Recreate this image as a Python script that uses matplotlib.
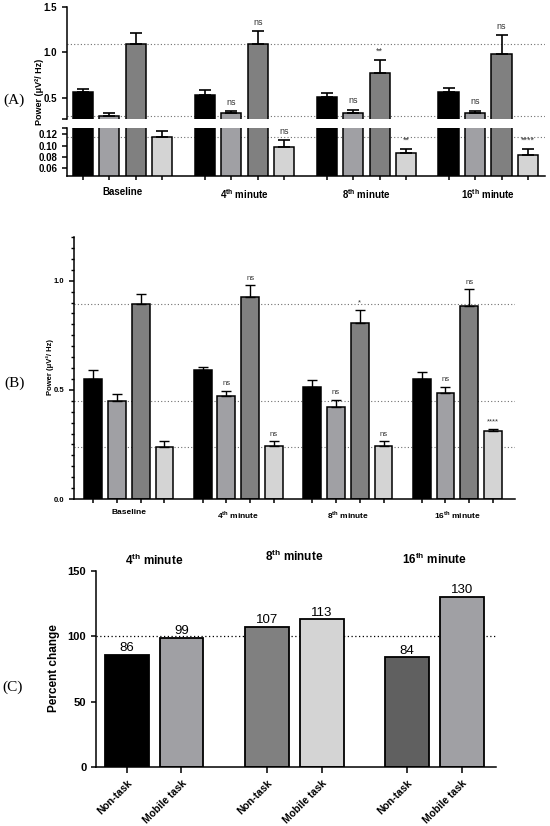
import numpy as np
import matplotlib
matplotlib.use("Agg")
import matplotlib.pyplot as plt

plt.rcParams['font.family'] = ['Liberation Sans', 'DejaVu Sans']
plt.rcParams['mathtext.fontset'] = 'custom'
plt.rcParams['mathtext.rm'] = 'Liberation Sans'
plt.rcParams['mathtext.bf'] = 'Liberation Sans:bold'
plt.rcParams['axes.linewidth'] = 1.1

# ---- data ----
groups = ["Baseline", r"4$^{\mathbf{th}}$ minute", r"8$^{\mathbf{th}}$ minute", r"16$^{\mathbf{th}}$ minute"]
series_colors = ["#000000", "#a0a0a4", "#808080", "#d4d4d4"]

# panel A (broken axis)
a_black = [0.56, 0.533, 0.51, 0.567]
a_black_sem = [0.04, 0.057, 0.045, 0.043]
a_grey = [0.30, 0.33, 0.33, 0.33]
a_grey_sem = [0.03, 0.025, 0.04, 0.03]
a_dark = [1.09, 1.09, 0.77, 0.98]
a_dark_sem = [0.12, 0.145, 0.145, 0.21]
a_light = [0.115, 0.098, 0.086, 0.084]
a_light_sem = [0.010, 0.012, 0.008, 0.010]
a_marks = [["", "", "", ""],
           ["", "ns", "ns", "ns"],
           ["", "ns", "**", "ns"],
           ["", "ns", "**", "****"]]

# panel B
b_black = [0.55, 0.59, 0.515, 0.55]
b_black_sem = [0.04, 0.015, 0.03, 0.03]
b_grey = [0.45, 0.47, 0.42, 0.485]
b_grey_sem = [0.03, 0.025, 0.035, 0.03]
b_dark = [0.895, 0.925, 0.805, 0.885]
b_dark_sem = [0.045, 0.055, 0.06, 0.075]
b_light = [0.24, 0.245, 0.245, 0.31]
b_light_sem = [0.025, 0.02, 0.02, 0.012]
b_marks = [["", "", "", ""],
           ["", "ns", "ns", "ns"],
           ["", "ns", "*", "ns"],
           ["", "ns", "ns", "****"]]

# panel C
c_titles = [r"4$^{\mathbf{th}}$ minute", r"8$^{\mathbf{th}}$ minute", r"16$^{\mathbf{th}}$ minute"]
c_labels = ["Non-task", "Mobile task"] * 3
c_values = [86, 99, 107, 113, 84, 130]
c_colors = ["#000000", "#a0a0a4", "#808080", "#d4d4d4", "#606060", "#a0a0a4"]

W, H = 550, 826
fig = plt.figure(figsize=(W / 100, H / 100), dpi=100)


def px_axes(x0, y0, x1, y1):
    # pixel box (left, top, right, bottom) -> figure axes
    return fig.add_axes([x0 / W, 1 - y1 / H, (x1 - x0) / W, (y1 - y0) / H])


def style(ax, bottom=True):
    for s in ["top", "right"]:
        ax.spines[s].set_visible(False)
    if not bottom:
        ax.spines["bottom"].set_visible(False)
    ax.tick_params(axis="y", width=1.1, length=3.5)
    ax.tick_params(axis="x", which="both", width=1.1)


def draw_bars(ax, means, sems, pos_all, width, capsize, elw):
    for i, (m, s) in enumerate(zip(means, sems)):
        pos = pos_all[i]
        ax.bar(pos, m, width=width, color=series_colors[i], edgecolor="black",
               linewidth=1.1, zorder=2)
        ax.errorbar(pos, m, yerr=[np.zeros(len(s)), s], fmt="none", ecolor="black",
                    elinewidth=elw, capsize=capsize, capthick=elw, zorder=3)


gap = 4.6
bar_pos = [np.arange(4) * gap + i for i in range(4)]
centers = np.arange(4) * gap + 1.5
all_pos = np.concatenate(bar_pos)

# ---------- panel A ----------
a_means = [a_black, a_grey, a_dark, a_light]
a_sems = [a_black_sem, a_grey_sem, a_dark_sem, a_light_sem]
axA = px_axes(67, 7, 545, 119)
axA2 = px_axes(67, 128, 545, 176)
for ax, lim in [(axA, (0.267, 1.5)), (axA2, (0.046, 0.131))]:
    draw_bars(ax, a_means, a_sems, bar_pos, 0.76, 4, 1.2)
    ax.set_xlim(-0.6, 3 * gap + 3.64)
    ax.set_ylim(*lim)
    ref = [a_dark[0], a_grey[0], a_light[0]]
    for r in ref:
        if lim[0] < r < lim[1]:
            ax.axhline(r, color="#707070", lw=0.8, ls=(0, (1, 2)), zorder=1)
style(axA, bottom=False)
style(axA2)
axA.set_xticks([])
axA.set_yticks([0.5, 1.0, 1.5])
axA.set_yticks([0.267], minor=True)
axA.tick_params(axis="y", which="minor", length=3.5, width=1.1)
axA.set_yticklabels(["0.5", "1.0", "1.5"], fontsize=7, fontweight="bold")
axA2.set_yticks([0.06, 0.08, 0.10, 0.12])
axA2.set_yticks([0.131], minor=True)
axA2.tick_params(axis="y", which="minor", length=3.5, width=1.1)
axA2.set_yticklabels(["0.06", "0.08", "0.10", "0.12"], fontsize=7, fontweight="bold")
axA2.set_xticks(centers)
axA2.set_xticklabels(groups, fontsize=7, fontweight="bold")
axA2.set_xticks(all_pos, minor=True)
axA2.tick_params(axis="x", which="major", length=0, pad=8)
axA2.tick_params(axis="x", which="minor", length=3)

for i in range(4):
    for g in range(4):
        mk = a_marks[i][g]
        if not mk:
            continue
        top = a_means[i][g] + a_sems[i][g]
        ax = axA if i < 3 else axA2
        ax.annotate(mk, (bar_pos[i][g], top), xytext=(0, 3), textcoords="offset points",
                    ha="center", va="bottom", fontsize=6.5, color="#333333")

fig.text(39 / W, 1 - 92 / H, "Power (μV²/ Hz)", rotation=90, ha="center", va="center",
         fontsize=6.5, fontweight="bold")
fig.text(14 / W, 1 - 100 / H, "(A)", ha="center", va="center", fontsize=11,
         family="Liberation Serif")

# ---------- panel B ----------
b_means = [b_black, b_grey, b_dark, b_light]
b_sems = [b_black_sem, b_grey_sem, b_dark_sem, b_light_sem]
axB = px_axes(74, 237, 515, 499)
draw_bars(axB, b_means, b_sems, bar_pos, 0.75, 3.5, 1.0)
axB.set_xlim(-0.8, 3 * gap + 3.92)
axB.set_ylim(0, 1.2)
for r in [b_dark[0], b_grey[0], b_light[0]]:
    axB.axhline(r, color="#707070", lw=0.8, ls=(0, (1, 2)), zorder=1)
style(axB)
axB.set_yticks([0.0, 0.5, 1.0])
axB.set_yticklabels(["0.0", "0.5", "1.0"], fontsize=5.5, fontweight="bold")
axB.set_yticks(np.arange(0, 1.201, 0.05), minor=True)
axB.tick_params(axis="y", which="minor", length=2.5, width=1.0)
axB.set_xticks(centers)
axB.set_xticklabels(groups, fontsize=6, fontweight="bold")
axB.set_xticks(all_pos, minor=True)
axB.tick_params(axis="x", which="major", length=0, pad=7)
axB.tick_params(axis="x", which="minor", length=3)

for i in range(4):
    for g in range(4):
        mk = b_marks[i][g]
        if not mk:
            continue
        top = b_means[i][g] + b_sems[i][g]
        axB.annotate(mk, (bar_pos[i][g], top), xytext=(0, 2.5), textcoords="offset points",
                     ha="center", va="bottom", fontsize=5.5, color="#333333")

fig.text(50 / W, 1 - 367 / H, "Power (μV²/ Hz)", rotation=90, ha="center", va="center",
         fontsize=5.5, fontweight="bold")
fig.text(15 / W, 1 - 383 / H, "(B)", ha="center", va="center", fontsize=11,
         family="Liberation Serif")

# ---------- panel C ----------
axC = px_axes(96, 571, 496, 767)
c_pos = np.array([0, 1, 2.56, 3.56, 5.12, 6.12])
axC.bar(c_pos, c_values, width=0.8, color=c_colors, edgecolor="black", linewidth=1.3, zorder=2)
axC.axhline(100, color="black", lw=0.9, ls=(0, (1, 2)), zorder=1)
axC.set_xlim(-0.56, 6.74)
axC.set_ylim(0, 150)
style(axC)
axC.set_yticks([0, 50, 100, 150])
axC.set_yticklabels(["0", "50", "100", "150"], fontsize=8, fontweight="bold")
axC.set_xticks(c_pos)
axC.set_xticklabels(c_labels, rotation=45, ha="right", rotation_mode="anchor",
                    fontsize=7.5, fontweight="bold")
axC.tick_params(axis="x", length=4, pad=4)
for p, v in zip(c_pos, c_values):
    axC.annotate(str(v), (p, v), xytext=(0, 0.5), textcoords="offset points",
                 ha="center", va="bottom", fontsize=9.5)
for k, t in enumerate(c_titles):
    axC.text(c_pos[2 * k] + 0.5, [1.055, 1.075, 1.06][k], t, transform=axC.get_xaxis_transform(),
             ha="center", va="center", fontsize=8.5, fontweight="bold")
axC.set_ylabel("Percent change", fontsize=8.5, fontweight="bold")
axC.yaxis.set_label_coords((60 - 96) / 400, (767 - 668) / 196)
fig.text(13 / W, 1 - 687 / H, "(C)", ha="center", va="center", fontsize=11,
         family="Liberation Serif")

fig.savefig("out.png", dpi=100)
